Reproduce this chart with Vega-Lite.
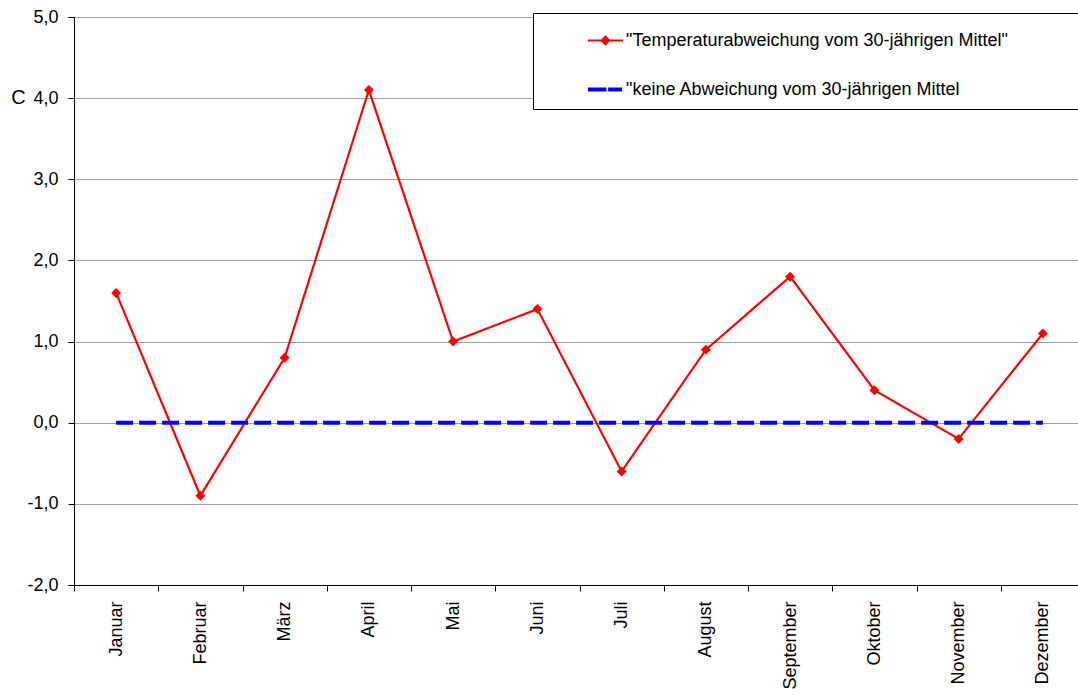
{
  "$schema": "https://vega.github.io/schema/vega-lite/v6.json",
  "autosize": {"type": "none"},
  "padding": {"left": 74, "top": 17, "right": 0, "bottom": 114},
  "width": 1011,
  "height": 568,
  "background": "white",
  "config": {
    "font": "Liberation Sans",
    "view": {"stroke": null},
    "axis": {
      "labelFont": "Liberation Sans",
      "labelFontSize": 18,
      "labelColor": "black",
      "domainColor": "black",
      "domainWidth": 1,
      "tickColor": "black",
      "tickSize": 6,
      "titleFont": "Liberation Sans",
      "titleColor": "black"
    },
    "legend": {
      "labelFont": "Liberation Sans",
      "labelFontSize": 18,
      "labelColor": "black"
    }
  },
  "data": {
    "values": [
      {"monat": "Januar", "wert": 1.6, "reihe": "\"Temperaturabweichung vom 30-jährigen Mittel\""},
      {"monat": "Februar", "wert": -0.9, "reihe": "\"Temperaturabweichung vom 30-jährigen Mittel\""},
      {"monat": "März", "wert": 0.8, "reihe": "\"Temperaturabweichung vom 30-jährigen Mittel\""},
      {"monat": "April", "wert": 4.1, "reihe": "\"Temperaturabweichung vom 30-jährigen Mittel\""},
      {"monat": "Mai", "wert": 1.0, "reihe": "\"Temperaturabweichung vom 30-jährigen Mittel\""},
      {"monat": "Juni", "wert": 1.4, "reihe": "\"Temperaturabweichung vom 30-jährigen Mittel\""},
      {"monat": "Juli", "wert": -0.6, "reihe": "\"Temperaturabweichung vom 30-jährigen Mittel\""},
      {"monat": "August", "wert": 0.9, "reihe": "\"Temperaturabweichung vom 30-jährigen Mittel\""},
      {"monat": "September", "wert": 1.8, "reihe": "\"Temperaturabweichung vom 30-jährigen Mittel\""},
      {"monat": "Oktober", "wert": 0.4, "reihe": "\"Temperaturabweichung vom 30-jährigen Mittel\""},
      {"monat": "November", "wert": -0.2, "reihe": "\"Temperaturabweichung vom 30-jährigen Mittel\""},
      {"monat": "Dezember", "wert": 1.1, "reihe": "\"Temperaturabweichung vom 30-jährigen Mittel\""},
      {"monat": "Januar", "wert": 0, "reihe": "\"keine Abweichung vom 30-jährigen Mittel"},
      {"monat": "Februar", "wert": 0, "reihe": "\"keine Abweichung vom 30-jährigen Mittel"},
      {"monat": "März", "wert": 0, "reihe": "\"keine Abweichung vom 30-jährigen Mittel"},
      {"monat": "April", "wert": 0, "reihe": "\"keine Abweichung vom 30-jährigen Mittel"},
      {"monat": "Mai", "wert": 0, "reihe": "\"keine Abweichung vom 30-jährigen Mittel"},
      {"monat": "Juni", "wert": 0, "reihe": "\"keine Abweichung vom 30-jährigen Mittel"},
      {"monat": "Juli", "wert": 0, "reihe": "\"keine Abweichung vom 30-jährigen Mittel"},
      {"monat": "August", "wert": 0, "reihe": "\"keine Abweichung vom 30-jährigen Mittel"},
      {"monat": "September", "wert": 0, "reihe": "\"keine Abweichung vom 30-jährigen Mittel"},
      {"monat": "Oktober", "wert": 0, "reihe": "\"keine Abweichung vom 30-jährigen Mittel"},
      {"monat": "November", "wert": 0, "reihe": "\"keine Abweichung vom 30-jährigen Mittel"},
      {"monat": "Dezember", "wert": 0, "reihe": "\"keine Abweichung vom 30-jährigen Mittel"}
    ]
  },
  "encoding": {
    "x": {
      "field": "monat",
      "type": "nominal",
      "sort": null,
      "scale": {"paddingInner": 0, "paddingOuter": 0},
      "axis": {
        "title": null,
        "labelAngle": -90,
        "labelAlign": "right",
        "labelBaseline": "middle",
        "labelPadding": 10,
        "tickBand": "extent",
        "grid": false
      }
    },
    "y": {
      "field": "wert",
      "type": "quantitative",
      "scale": {"domain": [-2, 5], "nice": false, "zero": false},
      "axis": {
        "values": [-2, -1, 0, 1, 2, 3, 4, 5],
        "labelExpr": "(datum.value < 0 ? '-' : '') + replace(format(abs(datum.value), '.1f'), '.', ',')",
        "labelPadding": 10,
        "grid": true,
        "gridColor": "#a0a0a0",
        "gridWidth": 1,
        "title": "C",
        "titleAngle": 0,
        "titleFontSize": 20,
        "titleFontWeight": "normal",
        "titleAlign": "center",
        "titleBaseline": "middle",
        "titleX": -56,
        "titleY": 80
      }
    },
    "color": {
      "field": "reihe",
      "type": "nominal",
      "sort": null,
      "scale": {
        "domain": ["\"Temperaturabweichung vom 30-jährigen Mittel\"", "\"keine Abweichung vom 30-jährigen Mittel"],
        "range": ["#ff0000", "#0000ff"]
      },
      "legend": {
        "title": "\u00a0",
        "titleOrient": "right",
        "titlePadding": 90,
        "orient": "none",
        "legendX": 459,
        "legendY": -4,
        "padding": 10,
        "symbolOffset": 45,
        "symbolSize": 1225,
        "labelOffset": 3,
        "labelLimit": 0,
        "rowPadding": 22,
        "fillColor": "white",
        "strokeColor": "black",
        "encode": {
          "symbols": {
            "update": {
              "shape": {"signal": "indexof(datum.value, 'keine') >= 0 ? 'M-1,-0.12L0.05,-0.12L0.05,0.12L-1,0.12Z M0.15,-0.12L0.95,-0.12L0.95,0.12L0.15,0.12Z' : 'M-1,-0.06L1,-0.06L1,0.06L-1,0.06Z M0,-0.3L0.3,0L0,0.3L-0.3,0Z'"},
              "fill": {"signal": "indexof(datum.value, 'keine') >= 0 ? '#0000ff' : '#ff0000'"},
              "fillOpacity": {"value": 1},
              "opacity": {"value": 1},
              "strokeWidth": {"value": 0}
            }
          }
        }
      }
    }
  },
  "layer": [
    {
      "transform": [{"filter": "indexof(datum.reihe, 'Temperatur') >= 0"}],
      "mark": {
        "type": "line",
        "strokeWidth": 2.2,
        "point": {"filled": true, "shape": "diamond", "size": 100, "opacity": 1}
      }
    },
    {
      "transform": [{"filter": "indexof(datum.reihe, 'keine') >= 0"}],
      "mark": {
        "type": "line",
        "strokeWidth": 4,
        "strokeDash": [17, 6]
      }
    }
  ]
}
